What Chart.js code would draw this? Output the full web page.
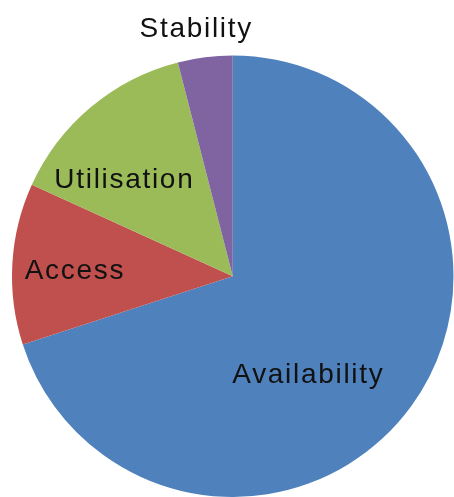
<!DOCTYPE html>
<html>
<head>
<meta charset="utf-8">
<script src="https://cdn.jsdelivr.net/npm/chart.js@4"></script>
<style>
  html, body { margin: 0; padding: 0; background: #fff; }
  #wrap { width: 454px; height: 497px; }
</style>
</head>
<body>
<div id="wrap"><canvas id="myChart" width="454" height="497"></canvas></div>
<script>
// Data: share of each food security pillar
const categories = ['Availability', 'Access', 'Utilisation', 'Stability'];
const values = [70, 11.8, 14.2, 4];
const colors = ['#4F81BD', '#C0504D', '#9BBB59', '#8064A2'];

// where each label sits: fraction along the slice angle, fraction of the radius
const labelSpots = [
    {along: 0.567, r: 0.56},
    {along: 0.47, r: 0.72},
    {along: 0.33, r: 0.66},
    {along: 0.4, r: 1.13},
];

// draw category names on (or next to) the slices
const sliceLabels = {
    id: 'sliceLabels',
    afterDatasetsDraw(chart) {
        const ctx = chart.ctx;
        const arcs = chart.getDatasetMeta(0).data;
        ctx.save();
        ctx.font = '28px "Liberation Sans", Arial, sans-serif';
        ctx.letterSpacing = '1.7px';
        ctx.fillStyle = '#111';
        ctx.textAlign = 'center';
        ctx.textBaseline = 'middle';
        arcs.forEach((arc, i) => {
            const p = arc.getProps(['x', 'y', 'startAngle', 'endAngle', 'outerRadius'], true);
            const spot = labelSpots[i];
            const a = p.startAngle + (p.endAngle - p.startAngle) * spot.along;
            const r = p.outerRadius * spot.r;
            ctx.fillText(categories[i], p.x + Math.cos(a) * r + 1, p.y + Math.sin(a) * r);
        });
        ctx.restore();
    }
};

const config = {
    type: 'pie',
    data: {
        labels: categories,
        datasets: [{
            data: values,
            backgroundColor: colors,
            borderWidth: 0,
        }]
    },
    options: {
        responsive: false,
        animation: false,
        devicePixelRatio: 1,
        layout: {
            padding: {left: 11.5, top: 55.5, right: 0, bottom: 0}
        },
        plugins: {
            legend: {display: false},
            tooltip: {enabled: false},
        }
    },
    plugins: [sliceLabels]
};

const ctx = document.querySelector('#myChart');
let myChart = new Chart(ctx, config);
</script>
</body>
</html>
